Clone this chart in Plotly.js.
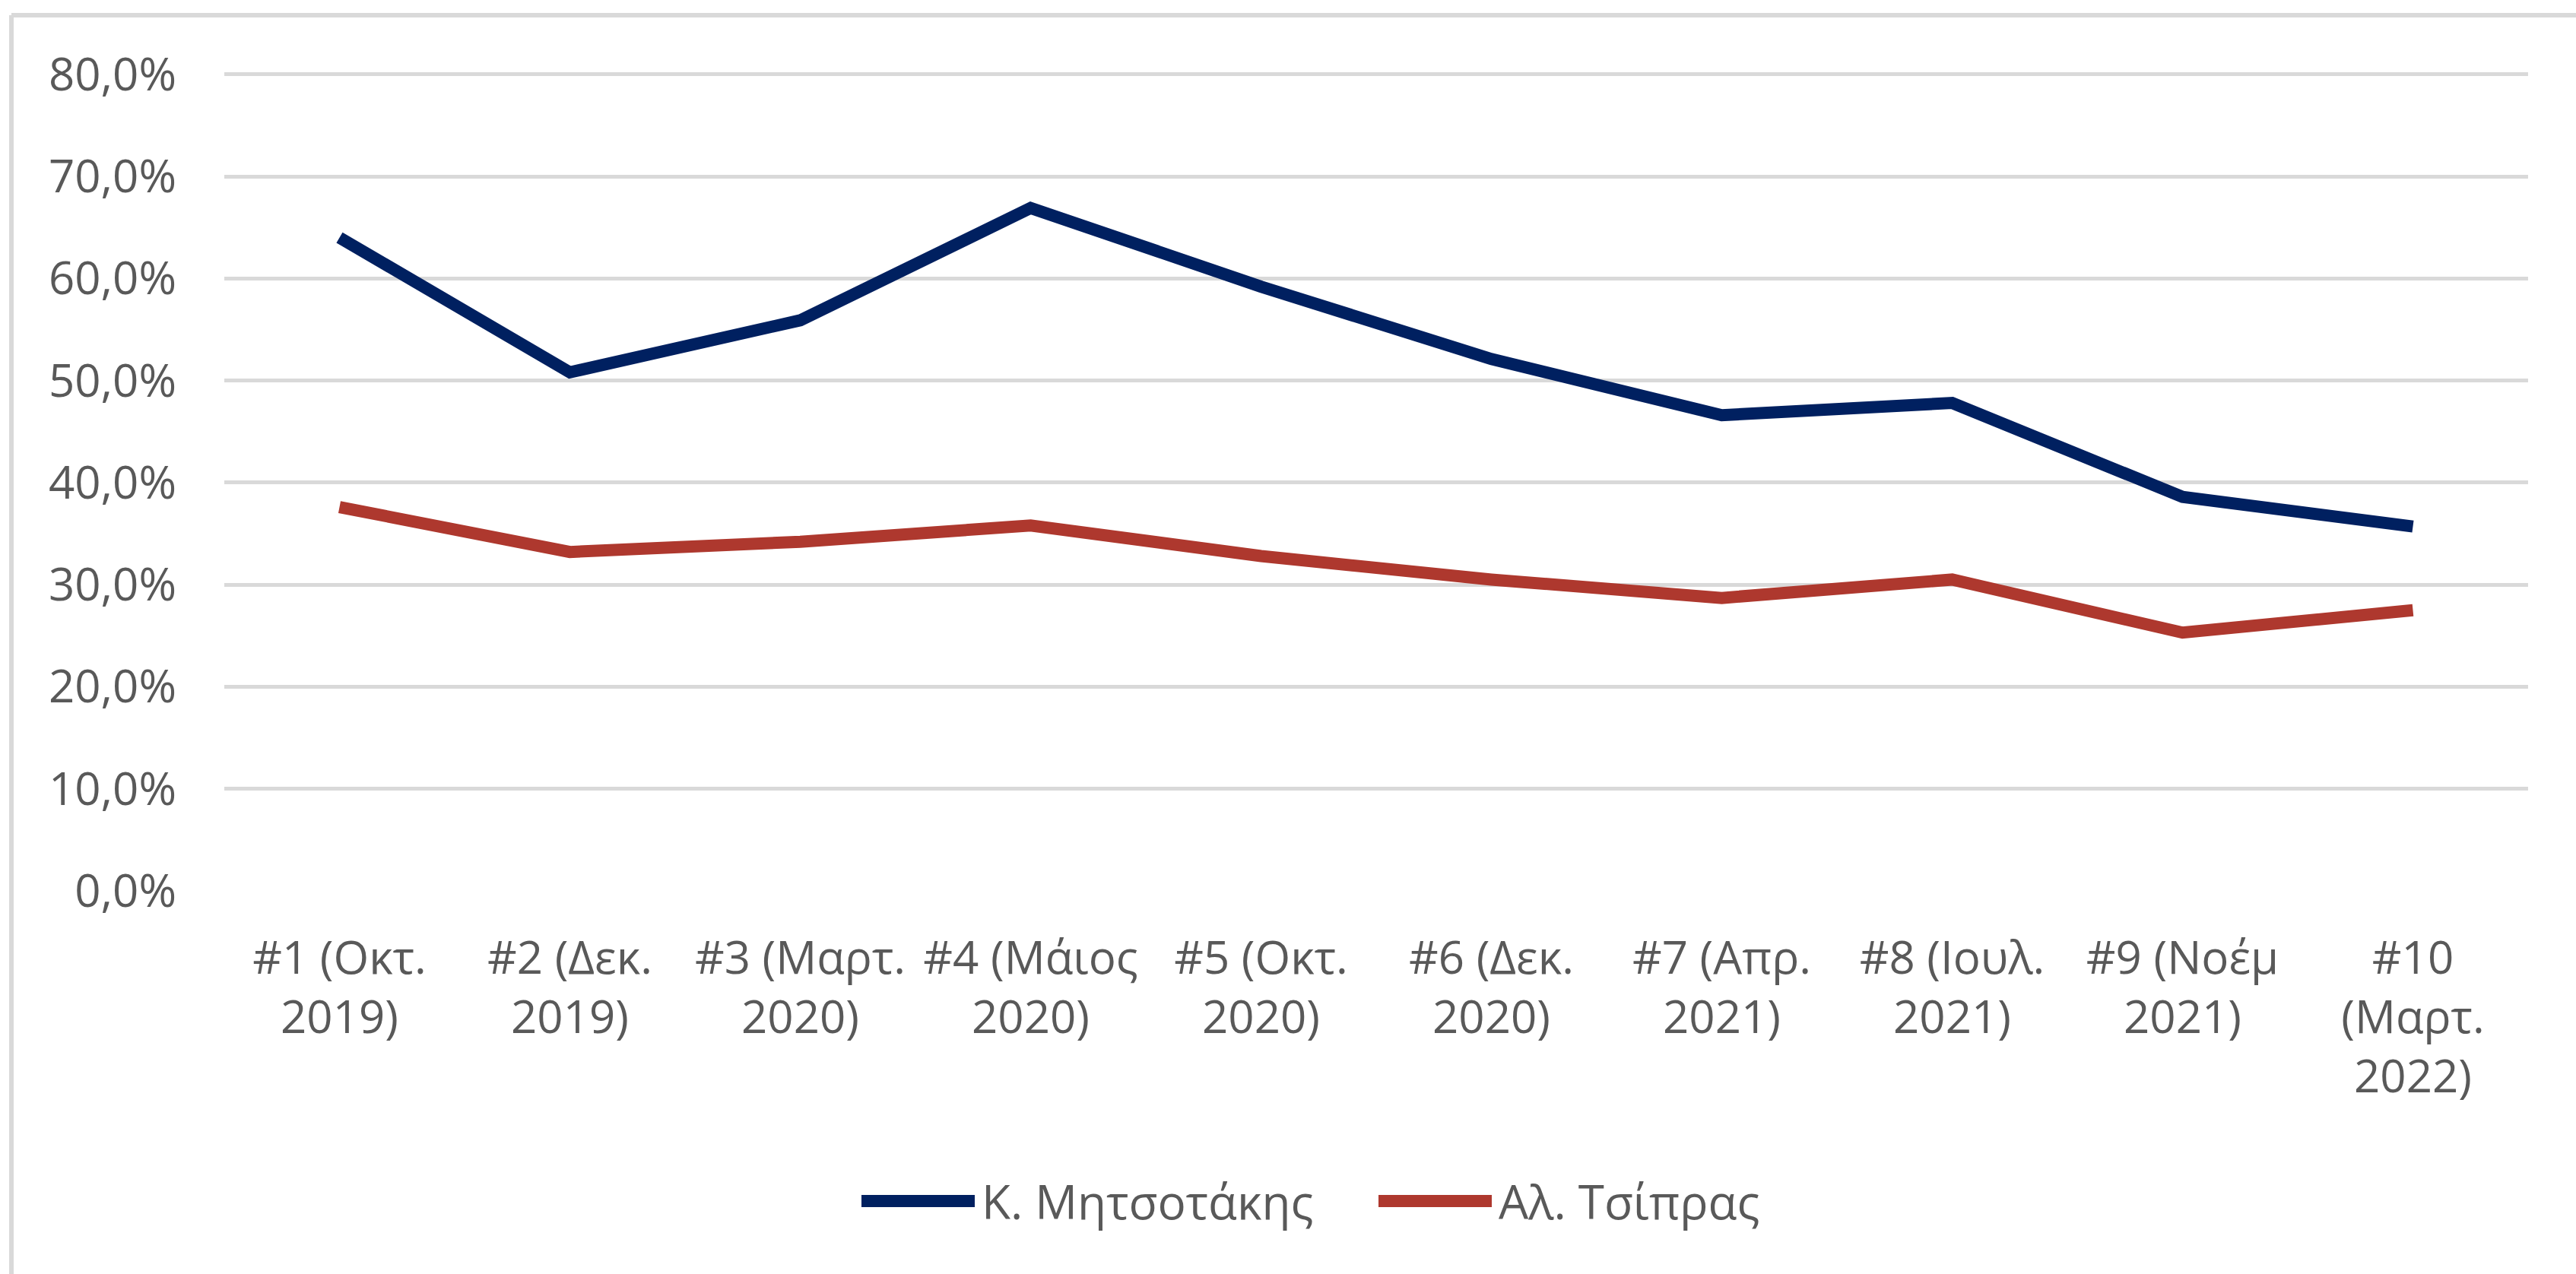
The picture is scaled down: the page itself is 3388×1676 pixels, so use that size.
<!DOCTYPE html>
<html>
<head>
<meta charset="utf-8">
<script src="https://cdn.plot.ly/plotly-3.0.1.min.js"></script>
<style>html,body{margin:0;padding:0;background:#fff;}#chart{width:3388px;height:1676px;}</style>
</head>
<body>
<div id="chart"></div>
<script>
var categories = ["#1 (Οκτ.<br>2019)", "#2 (Δεκ.<br>2019)", "#3 (Μαρτ.<br>2020)", "#4 (Μάιος<br>2020)", "#5 (Οκτ.<br>2020)", "#6 (Δεκ.<br>2020)", "#7 (Απρ.<br>2021)", "#8 (Ιουλ.<br>2021)", "#9 (Νοέμ<br>2021)", "#10<br>(Μαρτ.<br>2022)"];
var seriesNames = ["Κ. Μητσοτάκης", "Αλ. Τσίπρας"];
var mitsotakis = [64.0, 50.8, 55.9, 66.9, 59.2, 52.1, 46.6, 47.8, 38.6, 35.7];
var tsipras = [37.6, 33.2, 34.2, 35.8, 32.8, 30.5, 28.7, 30.5, 25.3, 27.5];
var yTicks = [0, 10, 20, 30, 40, 50, 60, 70, 80];
var yTickText = yTicks.map(function(v){ return v.toFixed(1).replace(".", ",") + "%"; });

var colors = ["#002060", "#AE382E"];
var W = 3388, H = 1676;
var L = 295, R = 63, T = 91, B = 504;
var pw = W - L - R, ph = H - T - B;
function px2x(px){ return (px - L) / pw; }
function py2y(py){ return (H - B - py) / ph; }

var font = "Open Sans, Segoe UI, sans-serif";
var textColor = "#595959";
var fs = 60;

var traces = [
  {x: categories, y: mitsotakis, name: seriesNames[0], type: "scatter", mode: "lines",
   line: {color: colors[0], width: 16}, showlegend: false},
  {x: categories, y: tsipras, name: seriesNames[1], type: "scatter", mode: "lines",
   line: {color: colors[1], width: 16}, showlegend: false}
];

// custom legend (long line symbols like the original)
var legY = py2y(1580);
var legItems = [
  {x0: 1133, x1: 1282, tx: 1289},
  {x0: 1813, x1: 1962, tx: 1969}
];
var shapes = [
  {type: "line", xref: "paper", yref: "paper", x0: px2x(15), x1: px2x(3400), y0: py2y(20), y1: py2y(20), line: {color: "#D9D9D9", width: 6}},
  {type: "line", xref: "paper", yref: "paper", x0: px2x(15), x1: px2x(15), y0: py2y(20), y1: py2y(1700), line: {color: "#D9D9D9", width: 6}}
];
var annotations = [];
legItems.forEach(function(it, i){
  shapes.push({type: "line", xref: "paper", yref: "paper", x0: px2x(it.x0), x1: px2x(it.x1), y0: legY, y1: legY,
    line: {color: colors[i], width: 16}});
  annotations.push({xref: "paper", yref: "paper", x: px2x(it.tx), y: legY, xanchor: "left", yanchor: "middle",
    text: seriesNames[i], showarrow: false, font: {family: font, size: 62, color: textColor}});
});

var layout = {
  width: W, height: H,
  margin: {l: L, r: R, t: T, b: B, pad: 0},
  paper_bgcolor: "#ffffff", plot_bgcolor: "#ffffff",
  font: {family: font, size: fs, color: textColor},
  xaxis: {
    type: "category", range: [-0.5, 9.5], showgrid: false, zeroline: false,
    showline: false, ticks: "", ticklabelstandoff: 48,
    tickfont: {family: font, size: fs, color: textColor}, fixedrange: true
  },
  yaxis: {
    range: [0, 80.5], tickmode: "array", tickvals: yTicks, ticktext: yTickText,
    showgrid: true, gridcolor: "#D9D9D9", gridwidth: 5, zeroline: false, showline: false,
    ticks: "", ticklabelstandoff: 62,
    tickfont: {family: font, size: fs, color: textColor}, fixedrange: true
  },
  shapes: shapes,
  annotations: annotations,
  showlegend: false
};

Plotly.newPlot("chart", traces, layout, {staticPlot: true, displayModeBar: false});
</script>
</body>
</html>
